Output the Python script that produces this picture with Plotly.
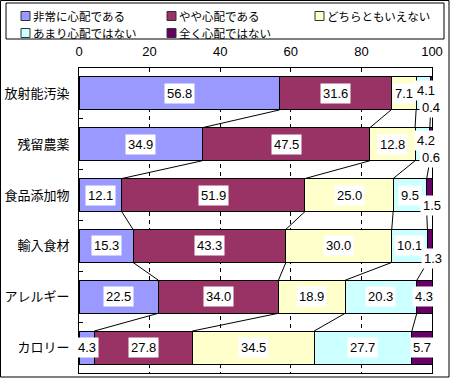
import plotly.graph_objects as go

categories = ["放射能汚染", "残留農薬", "食品添加物", "輸入食材", "アレルギー", "カロリー"]
series_names = ["非常に心配である", "やや心配である", "どちらともいえない", "あまり心配ではない", "全く心配ではない"]
very = [56.8, 34.9, 12.1, 15.3, 22.5, 4.3]
somewhat = [31.6, 47.5, 51.9, 43.3, 34.0, 27.8]
neutral = [7.1, 12.8, 25.0, 30.0, 18.9, 34.5]
notmuch = [4.1, 4.2, 9.5, 10.1, 20.3, 27.7]
notatall = [0.4, 0.6, 1.5, 1.3, 4.3, 5.7]
x_ticks = [0, 20, 40, 60, 80, 100]

series = [very, somewhat, neutral, notmuch, notatall]
colors = ["#9999FF", "#993366", "#FFFFCC", "#CCFFFF", "#660066"]

W, H = 450, 379
L, R, T, B = 79, 18, 68, 6
PW, PH = W - L - R, H - T - B
BARW = 0.65

def xp(px):
    return (px - L) / PW

def yp(py):
    return (H - B - py) / PH

ypos = list(range(len(categories)))
fig = go.Figure()
for name, vals, col in zip(series_names, series, colors):
    fig.add_trace(go.Bar(
        y=ypos, x=vals, name=name, orientation="h", width=BARW,
        marker=dict(color=col, line=dict(color="black", width=1)),
        showlegend=False, hoverinfo="x+name",
    ))

# cumulative sums
cums = []
for i in range(len(categories)):
    c, row = 0.0, []
    for s in series:
        c += s[i]
        row.append(c)
    cums.append(row)

# connector lines between bars
for k in range(len(series) - 1):
    for i in range(len(categories) - 1):
        fig.add_trace(go.Scatter(
            x=[cums[i][k], cums[i + 1][k]],
            y=[i + BARW / 2, i + 1 - BARW / 2],
            mode="lines", line=dict(color="black", width=1),
            showlegend=False, hoverinfo="skip",
        ))

# label offsets (px) for small segments
offsets = {(0, 3): (3, 3), (0, 4): (0, -14), (1, 3): (4, 4), (1, 4): (0, -13),
           (2, 4): (3, -10), (3, 4): (3, -13)}

annotations = []
for i in range(len(categories)):
    start = 0.0
    for k, s in enumerate(series):
        v = s[i]
        xs, ys = offsets.get((i, k), (0, 0))
        annotations.append(dict(
            x=start + v / 2, y=i, xref="x", yref="y", text=f"{v:.1f}",
            showarrow=False, bgcolor="white", borderpad=2,
            font=dict(size=13, color="black", family="Liberation Sans, Arial"),
            xshift=xs, yshift=ys,
        ))
        start += v

# manual legend
shapes = []
leg_cols = [21, 167, 315]
leg_rows = [16, 33]
for idx, (name, col) in enumerate(zip(series_names, colors)):
    r, c = divmod(idx, 3)
    x0 = leg_cols[c]
    yc = leg_rows[r]
    shapes.append(dict(type="rect", xref="paper", yref="paper",
                       x0=xp(x0), x1=xp(x0 + 9), y0=yp(yc + 4.5), y1=yp(yc - 4.5),
                       fillcolor=col, line=dict(color="#333333", width=1)))
    annotations.append(dict(x=xp(x0 + 10), y=yp(yc), xref="paper", yref="paper",
                            xanchor="left", yanchor="middle", text=name, showarrow=False,
                            font=dict(size=11.5, color="black", family="Noto Sans CJK JP")))
# legend box
shapes.append(dict(type="rect", xref="paper", yref="paper",
                   x0=xp(6), x1=xp(444), y0=yp(39), y1=yp(3),
                   line=dict(color="black", width=1), fillcolor="rgba(0,0,0,0)"))
# outer border
shapes.append(dict(type="rect", xref="paper", yref="paper",
                   x0=xp(0.5), x1=xp(449), y0=yp(377), y1=yp(0.5),
                   line=dict(color="black", width=1), fillcolor="rgba(0,0,0,0)"))

fig.update_layout(
    barmode="stack", width=W, height=H,
    margin=dict(l=L, r=R, t=T, b=B, pad=0, autoexpand=False),
    paper_bgcolor="white", plot_bgcolor="white",
    showlegend=False, annotations=annotations, shapes=shapes,
    font=dict(family="Noto Sans CJK JP", size=13, color="black"),
    xaxis=dict(side="top", range=[0, 100], tickvals=x_ticks, ticks="",
               showgrid=True, gridcolor="black", griddash="4px,4px", gridwidth=1,
               showline=True, linecolor="black", linewidth=1, mirror=True,
               zeroline=False, ticklabelstandoff=6, automargin=False,
               tickfont=dict(size=13, family="Liberation Sans, Arial")),
    yaxis=dict(range=[len(categories) - 0.5, -0.5], tickvals=ypos, ticktext=categories,
               ticks="", showgrid=False, zeroline=False, automargin=False,
               showline=True, linecolor="black", linewidth=1, mirror=True,
               ticklabelstandoff=6,
               tickfont=dict(size=13, family="Noto Sans CJK JP"),
               minor=dict(tickvals=[i + 0.5 for i in range(len(categories) - 1)],
                          ticks="inside", ticklen=4, tickcolor="black", showgrid=False)),
)

fig.write_html("out.html", config={"displayModeBar": False},
               post_script="document.body.style.margin='0';document.body.style.overflow='hidden';")
